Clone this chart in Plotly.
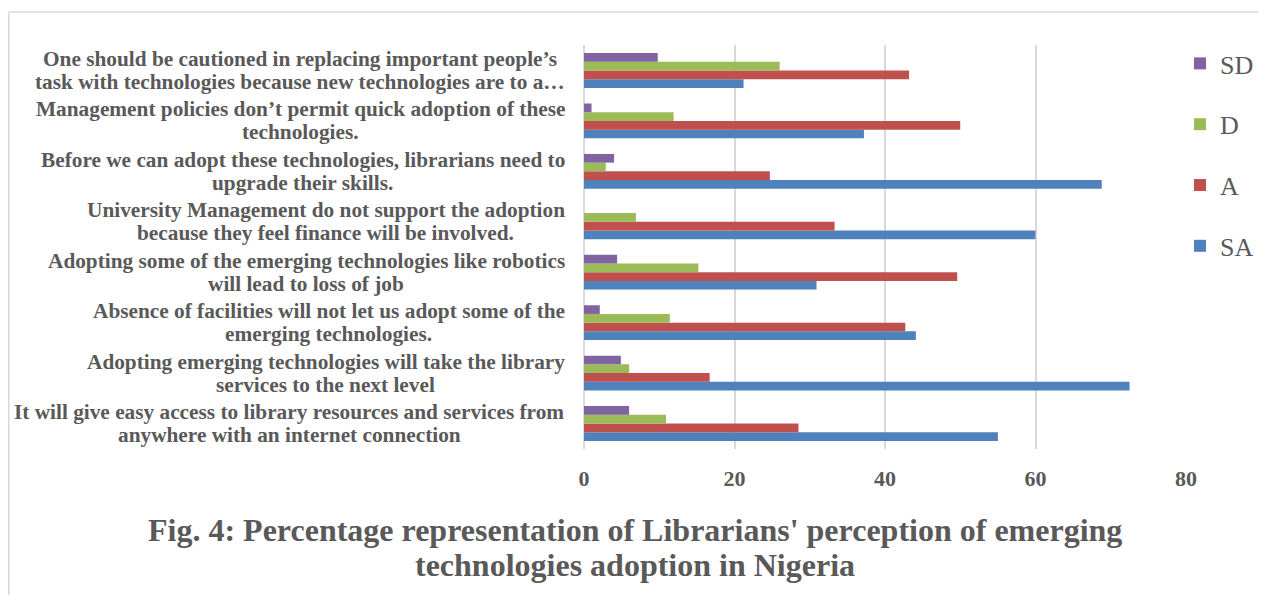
import plotly.graph_objects as go

# category labels, two lines each (bottom to top)
label_line1 = [
    "It will give easy access to library resources and services from",
    "Adopting emerging technologies will take the library",
    "Absence of facilities will not let us adopt some of the",
    "Adopting some of the emerging technologies like robotics",
    "University Management do not support the adoption",
    "Before we can adopt these technologies, librarians need to",
    "Management policies don\u2019t permit quick adoption of these",
    "One should be cautioned in replacing important people\u2019s",
]
label_line2 = [
    "anywhere with an internet connection",
    "services to the next level",
    "emerging technologies.",
    "will lead to loss of job",
    "because they feel finance will be involved.",
    "upgrade their skills.",
    "technologies.",
    "task with technologies because new technologies are to a\u2026",
]
categories = [a + " " + b for a, b in zip(label_line1, label_line2)]

SA = [55.0, 72.5, 44.1, 30.9, 60.0, 68.8, 37.2, 21.2]
A = [28.5, 16.7, 42.7, 49.6, 33.3, 24.7, 50.0, 43.2]
D = [10.9, 6.0, 11.4, 15.2, 6.9, 2.9, 11.9, 26.0]
SD = [6.0, 4.9, 2.1, 4.4, 0.0, 4.0, 1.0, 9.8]

series_names = ["SA", "A", "D", "SD"]
series_values = [SA, A, D, SD]
series_colors = ["#4F81BD", "#C0504D", "#9BBB59", "#8064A2"]
legend_ranks = [4, 3, 2, 1]
x_ticks = [0, 20, 40, 60, 80]
title_lines = [
    "Fig. 4: Percentage representation of Librarians' perception of emerging",
    "technologies adoption in Nigeria",
]

FONT = "Liberation Serif, Times New Roman, serif"
GRAY = "#595959"

# page has an 8px body margin: figure pixel = reference pixel - 8
W, H = 1250, 587
L, R, T, B = 576, 72, 37, 146
pw, ph = W - L - R, H - T - B


def px_x(p):
    return (p - L) / pw


def px_y(p):
    return (H - B - p) / ph


# Times bold advance widths (1/1000 em), used to centre the two label lines
_TB = dict(zip("abcdefghijklmnopqrstuvwxyz",
               [500, 556, 444, 556, 444, 333, 500, 556, 278, 333, 556, 278, 833,
                556, 500, 556, 556, 444, 389, 333, 556, 500, 722, 500, 500, 444]))
_TB.update({" ": 250, ",": 250, ".": 250, "\u2019": 333, "\u2026": 1000, "'": 278,
            "A": 722, "B": 667, "I": 389, "M": 944, "O": 778, "U": 722, "T": 667})


def text_width(s, size):
    return sum(_TB.get(ch, 500) for ch in s) * size / 1000.0


fig = go.Figure()
for name, vals, col, rk in zip(series_names, series_values, series_colors, legend_ranks):
    fig.add_trace(go.Bar(y=categories, x=vals, name=name, orientation="h",
                         marker=dict(color=col, line=dict(width=0)),
                         legendgroup=name, legendrank=rk))

LAB_SIZE = 21.3
LAB_RIGHT = 557
half_gap = 11.5
annotations = []
for c, l1, l2 in zip(categories, label_line1, label_line2):
    wmax = max(text_width(l1, LAB_SIZE), text_width(l2, LAB_SIZE))
    cx = px_x(LAB_RIGHT - wmax / 2)
    for txt, ys in ((l1, half_gap), (l2, -half_gap)):
        annotations.append(dict(x=cx, xref="paper", y=c, yref="y", text=txt,
                                showarrow=False, xanchor="center", yanchor="middle",
                                yshift=ys,
                                font=dict(family=FONT, size=LAB_SIZE, color=GRAY, weight="bold")))

for txt, yp in zip(title_lines, (522, 557)):
    annotations.append(dict(x=px_x(627), xref="paper", y=px_y(yp), yref="paper",
                            text=txt, showarrow=False, xanchor="center", yanchor="middle",
                            font=dict(family=FONT, size=32, color=GRAY, weight="bold")))

shapes = [
    dict(type="line", xref="paper", yref="paper", x0=px_x(0.75), x1=px_x(0.75), y0=px_y(4), y1=px_y(600),
         line=dict(color="#D9D9D9", width=1.5)),
    dict(type="line", xref="paper", yref="paper", x0=px_x(0.75), x1=px_x(1260), y0=px_y(4), y1=px_y(4),
         line=dict(color="#D9D9D9", width=1.5)),
]

fig.update_layout(
    width=W, height=H,
    margin=dict(l=L, r=R, t=T, b=B, autoexpand=False),
    paper_bgcolor="white", plot_bgcolor="white",
    barmode="group", bargap=0.31, bargroupgap=0,
    xaxis=dict(range=[0, 80], tickvals=x_ticks, showgrid=True, gridcolor="#D9D9D9", gridwidth=1.5,
               zeroline=True, zerolinecolor="#D9D9D9", zerolinewidth=1.5, showline=False,
               ticks="", ticklabelstandoff=14,
               tickfont=dict(family=FONT, size=22, color=GRAY, weight="bold"),
               fixedrange=True),
    yaxis=dict(showticklabels=False, showgrid=False, zeroline=False, showline=False, ticks="",
               categoryorder="array", categoryarray=categories),
    legend=dict(x=px_x(1172), xanchor="left", y=px_y(32), yanchor="top", traceorder="grouped",
                tracegroupgap=24, font=dict(family=FONT, size=26, color=GRAY),
                bgcolor="rgba(0,0,0,0)", borderwidth=0),
    annotations=annotations,
    shapes=shapes,
    showlegend=True,
)

fig.write_html("out.html")
